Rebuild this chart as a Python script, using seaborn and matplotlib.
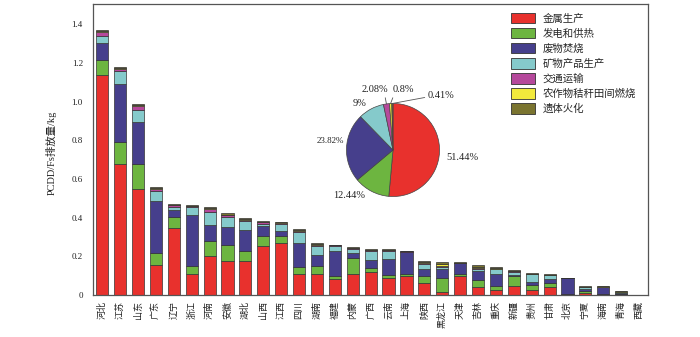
import numpy as np
import matplotlib
matplotlib.use("Agg")
import matplotlib.pyplot as plt
from matplotlib.patches import Patch
import seaborn as sns

provinces = ["河北", "江苏", "山东", "广东", "辽宁", "浙江", "河南", "安徽", "湖北", "山西",
             "江西", "四川", "湖南", "福建", "内蒙", "广西", "云南", "上海", "陕西", "黑龙江",
             "天津", "吉林", "重庆", "新疆", "贵州", "甘肃", "北京", "宁夏", "海南", "青海", "西藏"]

sources = ["金属生产", "发电和供热", "废物焚烧", "矿物产品生产", "交通运输", "农作物秸秆田间燃烧", "遗体火化"]

metal = [1.140, 0.678, 0.548, 0.157, 0.344, 0.107, 0.203, 0.177, 0.176, 0.255,
         0.270, 0.110, 0.110, 0.083, 0.110, 0.117, 0.086, 0.097, 0.064, 0.017,
         0.098, 0.040, 0.027, 0.048, 0.024, 0.041, 0.003, 0.010, 0.005, 0.003, 0.001]
power = [0.077, 0.111, 0.127, 0.061, 0.057, 0.044, 0.074, 0.083, 0.053, 0.050,
         0.033, 0.033, 0.041, 0.017, 0.080, 0.024, 0.017, 0.013, 0.036, 0.072,
         0.010, 0.037, 0.018, 0.049, 0.028, 0.023, 0.002, 0.011, 0.001, 0.001, 0.0005]
waste = [0.088, 0.304, 0.219, 0.266, 0.038, 0.262, 0.083, 0.090, 0.107, 0.050,
         0.026, 0.126, 0.054, 0.126, 0.028, 0.040, 0.081, 0.112, 0.034, 0.045,
         0.056, 0.045, 0.062, 0.006, 0.014, 0.019, 0.081, 0.012, 0.034, 0.004, 0.0005]
mineral = [0.034, 0.068, 0.062, 0.055, 0.014, 0.043, 0.069, 0.051, 0.048, 0.012,
           0.036, 0.056, 0.050, 0.029, 0.020, 0.046, 0.043, 0.002, 0.028, 0.012,
           0.001, 0.014, 0.027, 0.017, 0.041, 0.019, 0.001, 0.007, 0.002, 0.008, 0.0]
transport = [0.019, 0.010, 0.020, 0.010, 0.010, 0.004, 0.014, 0.011, 0.006, 0.008,
             0.007, 0.006, 0.005, 0.002, 0.005, 0.006, 0.004, 0.002, 0.006, 0.006,
             0.001, 0.003, 0.003, 0.004, 0.003, 0.002, 0.001, 0.002, 0.001, 0.002, 0.0]
straw = [0.006, 0.003, 0.007, 0.003, 0.003, 0.002, 0.007, 0.004, 0.002, 0.003,
         0.003, 0.003, 0.003, 0.001, 0.002, 0.002, 0.002, 0.001, 0.003, 0.010,
         0.001, 0.007, 0.002, 0.002, 0.001, 0.001, 0.000, 0.001, 0.001, 0.001, 0.0]
cremation = [0.008, 0.005, 0.005, 0.004, 0.006, 0.004, 0.006, 0.006, 0.004, 0.006,
             0.004, 0.005, 0.004, 0.002, 0.003, 0.004, 0.003, 0.002, 0.003, 0.007,
             0.002, 0.007, 0.004, 0.003, 0.003, 0.002, 0.001, 0.002, 0.001, 0.002, 0.0]

pie_shares = [51.44, 12.44, 23.82, 9, 2.08, 0.8, 0.41]
pie_labels = ["51.44%", "12.44%", "23.82%", "9%", "2.08%", "0.8%", "0.41%"]

y_ticks = [0, 0.2, 0.4, 0.6, 0.8, 1.0, 1.2, 1.4]
y_ticklabels = ["0", "0.2", "0.4", "0.6", "0.8", "1.0", "1.2", "1.4"]
y_label = "PCDD/Fs排放量/kg"

colors = ["#E8312D", "#6DB540", "#463F8C", "#85CACB", "#B5489B", "#F2EA3C", "#7A7430"]

sns.set_theme(style="white")
plt.rcParams["font.family"] = ["Liberation Serif", "Noto Sans CJK SC"]

W, H = 700, 337
fig = plt.figure(figsize=(7, 3.37), dpi=100)
L, R, B, T = 93.3, 648, 295, 4
ax = fig.add_axes([L / W, (H - B) / H, (R - L) / W, (B - T) / H])

layers = [metal, power, waste, mineral, transport, straw, cremation]
bottom = np.zeros(len(provinces))
for seg, c in zip(layers, colors):
    seg = np.array(seg, dtype=float)
    sns.barplot(x=provinces, y=seg, bottom=bottom, color=c, saturation=1,
                width=0.68, edgecolor="#333333", linewidth=0.5, ax=ax, order=provinces)
    bottom = bottom + seg

ax.set_xlim(-0.5, len(provinces) - 0.5)
ax.set_ylim(0, 1.505)
ax.set_yticks(y_ticks)
ax.set_yticklabels(y_ticklabels, fontsize=6.5)
ax.set_xticks(range(len(provinces)))
ax.set_xticklabels(provinces, rotation=90, fontsize=6.5, family=["Noto Sans CJK SC"],
                   va="top", ha="center")
ax.tick_params(axis="y", direction="out", length=2.5, width=0.6, pad=5, colors="#333333")
ax.tick_params(axis="x", direction="in", length=2, width=0.6, pad=4, colors="#333333")
for lab in ax.get_xticklabels() + ax.get_yticklabels():
    lab.set_color("#222222")
ax.set_ylabel(y_label, fontsize=7.5, color="#222222")
ax.yaxis.set_label_coords((57 - L) / (R - L), (B - 152.5) / (B - T))
ax.set_xlabel("")
for s in ax.spines.values():
    s.set_color("#555555")
    s.set_linewidth(0.9)
ax.grid(False)

handles = [Patch(facecolor=c, edgecolor="#333333", linewidth=0.6) for c in colors]
ax.legend(handles, sources, loc="upper left",
          bbox_to_anchor=((511 - L) / (R - L), (B - 13) / (B - T)),
          frameon=False, handlelength=2.3, handleheight=1.15,
          handletextpad=0.7, labelspacing=0.42, borderpad=0, borderaxespad=0,
          prop={"family": ["Noto Sans CJK SC"], "size": 7.5})

# pie inset
cx, cy, r = 393, 150, 47
pax = fig.add_axes([(cx - r) / W, (H - cy - r) / H, 2 * r / W, 2 * r / H])
pax.pie(pie_shares, colors=colors, startangle=90, counterclock=False,
        wedgeprops=dict(edgecolor="#444444", linewidth=0.5))
pax.set_xlim(-1.01, 1.01)
pax.set_ylim(-1.01, 1.01)
pax.set_aspect("equal")

def ft(x, y, s, size=7.5, ha="left"):
    fig.text(x / W, 1 - y / H, s, fontsize=size, ha=ha, va="center", color="#222222")

ft(446, 157, pie_labels[0])
ft(333, 195, pie_labels[1])
ft(317, 141, pie_labels[2], size=6.5)
ft(353, 103, pie_labels[3])

def lead(frac_angle_deg, tx, ty, s, relpos):
    a = np.deg2rad(frac_angle_deg)
    pax.annotate(s, xy=(np.cos(a), np.sin(a)), xycoords="data",
                 xytext=(tx, H - ty), textcoords="figure pixels",
                 fontsize=7.5, ha="left", va="center", color="#222222",
                 annotation_clip=False,
                 arrowprops=dict(arrowstyle="-", color="#555555", lw=0.6,
                                 shrinkA=0, shrinkB=0, relpos=relpos))

lead(98.1, 362, 90, pie_labels[4], (0.85, 0.0))
lead(93.0, 393, 90, pie_labels[5], (0.05, 0.0))
lead(90.7, 428, 96, pie_labels[6], (0.0, 0.4))

fig.savefig("out.png", dpi=100)
